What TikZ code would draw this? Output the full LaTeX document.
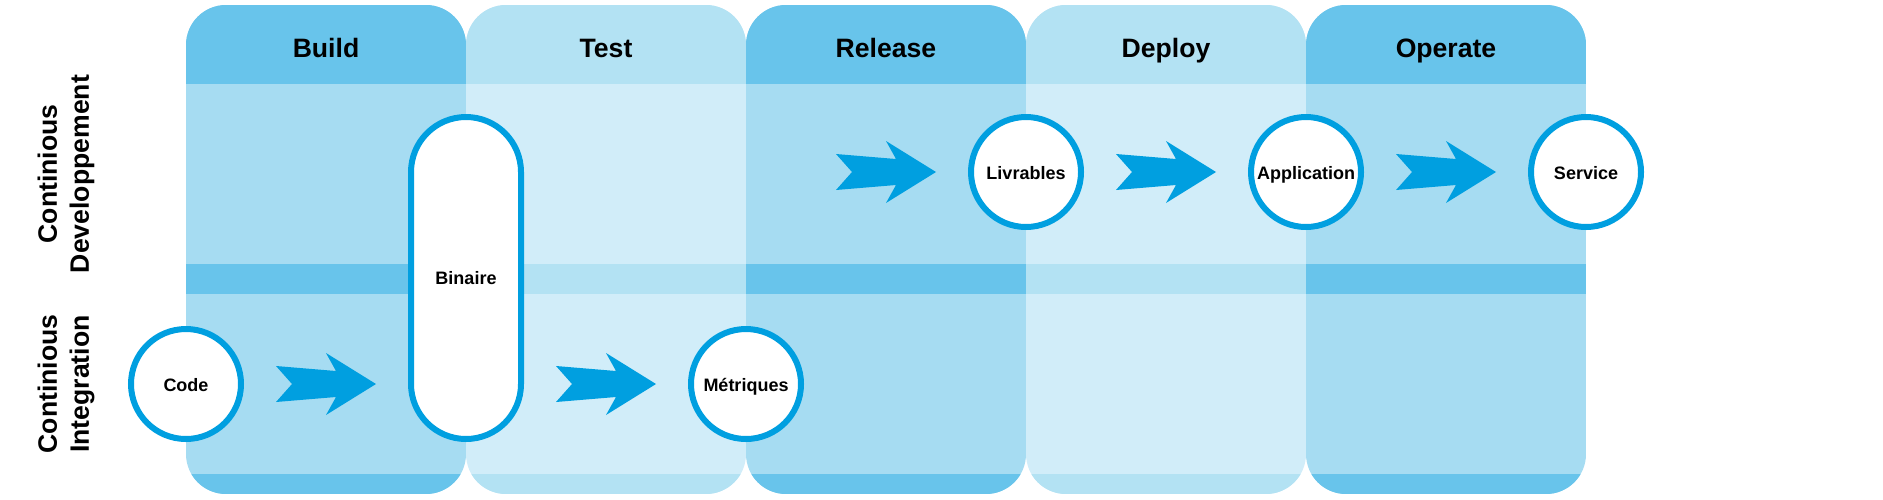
\documentclass[tikz,border=0pt]{standalone}
\usepackage{fontspec}
\setmainfont{Liberation Sans}
\usetikzlibrary{positioning, calc}

\definecolor{flowblue}{HTML}{009FE0}
\definecolor{darkhead}{HTML}{68C4EB}
\definecolor{darkbody}{HTML}{A6DCF2}
\definecolor{lighthead}{HTML}{B3E2F3}
\definecolor{lightbody}{HTML}{D1EDF9}

\tikzset{node distance=140pt, % one phase column to the next
        stage/.style={ % round artefacts
            circle, draw=flowblue, line width=3pt, fill=white,
            minimum size=55pt, inner sep=0pt,
            text height=0.72em, text depth=0pt, % same height for every label
            font=\bfseries\fontsize{9}{11}\selectfont},
        pill/.style={ % the tall binary box
            rectangle, rounded corners=27.5pt, draw=flowblue, line width=3pt,
            fill=white, minimum width=55pt, minimum height=161pt,
            font=\bfseries\fontsize{9}{11}\selectfont},
        phase/.style={text height=0.72em, text depth=0pt,
            font=\bfseries\fontsize{13.3}{16}\selectfont},
        rowlabel/.style={rotate=90, align=center,
            font=\bfseries\fontsize{13.3}{16}\selectfont},
        flow/.style={fill=flowblue}
        }

% fat arrow ending 32px before the west side of #1, at the height of #2
\newcommand\flowarrow[2]{
    \path ($(#1.west |- #2)+(-32,0)$) coordinate (tip);
    \fill[flow] (tip) -- ++(-50,-31) -- ++(10,18) -- ++(-60,-5) -- ++(16,18)
        -- ++(-16,18) -- ++(60,-5) -- ++(-10,18) -- cycle;
}

\begin{document}
\begin{tikzpicture}[x=0.5pt, y=-0.5pt] % 1 unit = 1 pixel, y going down
    \useasboundingbox (0,0) rectangle (1883,499);

    % phase columns
    \foreach \phase/\x/\head/\body in {Build/186/darkhead/darkbody,
            Test/466/lighthead/lightbody, Release/746/darkhead/darkbody,
            Deploy/1026/lighthead/lightbody, Operate/1306/darkhead/darkbody}{
        \begin{scope}
            \clip[rounded corners=20pt] (\x,5) rectangle ++(280,489);
            \fill[\body] (\x,5) rectangle ++(280,489);
            \fill[\head] (\x,5) rectangle ++(280,79);
            \fill[\head] (\x,264) rectangle ++(280,30);
            \fill[\head] (\x,474) rectangle ++(280,20);
        \end{scope}
        \node[phase] (\phase) at (\x+140,50) {\phase};
    }

    \node[rowlabel] (cd) at (66,174) {Continious\\Developpement};
    \node[rowlabel] (ci) at (66,384) {Continious\\Integration};

    \node[stage] (code) at (186,384) {Code};
    \node[pill] (bin) at (466,278) {Binaire};
    \node[stage] (metr) [right of=code, node distance=280pt] {Métriques};
    \node[stage] (livr) at (1026,172) {Livrables};
    \node[stage] (appl) [right of=livr] {Application};
    \node[stage] (serv) [right of=appl] {Service};

    \flowarrow{bin}{code}
    \flowarrow{metr}{metr}
    \flowarrow{livr}{livr}
    \flowarrow{appl}{appl}
    \flowarrow{serv}{serv}
\end{tikzpicture}
\end{document}
